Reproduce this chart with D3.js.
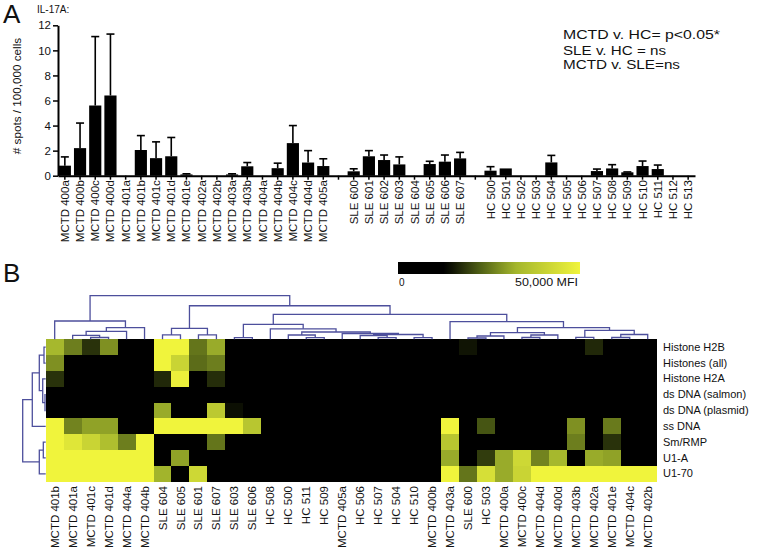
<!DOCTYPE html>
<html><head><meta charset="utf-8">
<script src="https://cdn.jsdelivr.net/npm/d3@7"></script>
<style>
body{margin:0;background:#fff;}
svg{display:block;font-family:"Liberation Sans",Arial,Helvetica,sans-serif;}
</style></head><body>
<svg id="chart" width="765" height="551"></svg>
<script>
// ---------- Panel A data ----------
const barCategories = ["MCTD 400a","MCTD 400b","MCTD 400c","MCTD 400d","MCTD 401a","MCTD 401b","MCTD 401c","MCTD 401d","MCTD 401e","MCTD 402a","MCTD 402b","MCTD 403a","MCTD 403b","MCTD 404a","MCTD 404b","MCTD 404c","MCTD 404d","MCTD 405a","",
  "SLE 600","SLE 601","SLE 602","SLE 603","SLE 604","SLE 605","SLE 606","SLE 607","",
  "HC 500","HC 501","HC 502","HC 503","HC 504","HC 505","HC 506","HC 507","HC 508","HC 509","HC 510","HC 511","HC 512","HC 513"];
const barValues = [0.8,2.2,5.6,6.4,0,2.05,1.4,1.55,0.1,0,0,0.1,0.75,0,0.6,2.6,1.05,0.77,null,
  0.35,1.55,1.25,0.9,0,0.93,1.12,1.38,null,
  0.4,0.58,0,0,1.06,0,0,0.37,0.58,0.27,0.77,0.53,0,0];
const barErrUpper = [1.5,4.2,11.1,11.3,0,3.2,2.7,3.05,0.15,0,0,0.15,1.05,0,1.0,4.0,2.0,1.35,null,
  0.55,2.0,1.65,1.5,0,1.15,1.65,1.86,null,
  0.72,0.58,0,0,1.62,0,0,0.53,0.88,0.3,1.17,0.85,0,0];
const yTicks = [0,2,4,6,8,10,12];
const yTitle = "# spots / 100,000 cells";
const cytokine = "IL-17A:";
const statLines = ["MCTD v. HC= p<0.05*","SLE v. HC = ns","MCTD v. SLE=ns"];

// ---------- Panel B data ----------
const heatCols = ["MCTD 401b","MCTD 401a","MCTD 401c","MCTD 401d","MCTD 404a","MCTD 404b","SLE 604","SLE 605","SLE 601","SLE 607","SLE 603","SLE 606","HC 508","HC 500","HC 511","HC 509","MCTD 405a","HC 506","HC 507","HC 504","HC 510","MCTD 400b","MCTD 403a","SLE 600","HC 503","MCTD 400a","MCTD 400c","MCTD 404d","MCTD 400d","MCTD 403b","MCTD 402a","MCTD 401e","MCTD 404c","MCTD 402b"];
const heatRows = ["Histone H2B","Histones (all)","Histone H2A","ds DNA (salmon)","ds DNA (plasmid)","ss DNA","Sm/RMP","U1-A","U1-70"];
// MFI values (rows x columns)
const mfiH2B     = [33000,26000,18000,28000,0,0,50000,50000,25000,31000,0,0,0,0,0,0,0,0,0,0,0,0,0,15000,0,0,0,0,0,0,17000,0,0,0];
const mfiHistAll = [28000,0,0,0,0,0,50000,41000,24000,26000,0,0,0,0,0,0,0,0,0,0,0,0,0,0,0,0,0,0,0,0,0,0,0,0];
const mfiH2A     = [18000,0,0,0,0,0,17000,49000,0,17500,0,0,0,0,0,0,0,0,0,0,0,0,0,0,0,0,0,0,0,0,0,0,0,0];
const mfiDsSalm  = [0,0,0,0,0,0,0,0,0,0,0,0,0,0,0,0,0,0,0,0,0,0,0,0,0,0,0,0,0,0,0,0,0,0];
const mfiDsPlas  = [0,0,0,0,0,0,31000,0,0,38000,14500,0,0,0,0,0,0,0,0,0,0,0,0,0,0,0,0,0,0,0,0,0,0,0];
const mfiSsDNA   = [50000,26500,30000,30000,0,0,50000,50000,50000,50000,50000,37000,0,0,0,0,0,0,0,0,0,0,50000,0,21500,0,0,0,0,28000,0,25500,0,0];
const mfiSm      = [50000,46000,41000,35000,26000,50000,0,0,0,25000,0,0,0,0,0,0,0,0,0,0,0,0,37000,0,0,0,0,0,0,26000,0,18000,0,0];
const mfiU1A     = [50000,50000,50000,50000,50000,50000,0,30000,0,0,0,0,0,0,0,0,0,0,0,0,0,0,31000,0,19000,31000,42000,26500,33000,0,31000,30000,0,0];
const mfiU170    = [50000,50000,50000,50000,50000,50000,32000,0,42000,0,0,0,0,0,0,0,0,0,0,0,0,0,50000,25000,44000,31000,41000,50000,50000,50000,50000,50000,50000,50000];
const heatValues = [mfiH2B,mfiHistAll,mfiH2A,mfiDsSalm,mfiDsPlas,mfiSsDNA,mfiSm,mfiU1A,mfiU170];
const mfiMax = 50000;
const colorbarLabels = ["0","50,000 MFI"];

// dendrograms: [mergeHeight, left, right], leaves are names
const colTree = [10,
  [4.2, "MCTD 401b", [2.66, [1.8, [0.92, "MCTD 401a", [0.41, "MCTD 401c", "MCTD 401d"]], "MCTD 404a"], "MCTD 404b"]],
  [7.7,
    [2.5, [1.0, "SLE 604", "SLE 605"], [1.0, "SLE 601", "SLE 607"]],
    [5.73,
      [3.44, [0.37, "SLE 603", "SLE 606"],
        [2.4, "HC 508",
          [1.67,
            [0.99, "HC 500", [0.37, "HC 511", "HC 509"]],
            [1.33, "MCTD 405a", [1.1, [0.87, "HC 506", [0.37, "HC 507", "HC 504"]], [0.37, "HC 510", "MCTD 400b"]]]]]],
      [4.04, "MCTD 403a",
        [2.66,
          [1.51, [0.76, [0.3, "SLE 600", "HC 503"], "MCTD 400a"], [0.99, [0.41, "MCTD 400c", "MCTD 404d"], "MCTD 400d"]],
          [2.06, [0.46, "MCTD 403b", "MCTD 402a"], [1.1, [0.41, "MCTD 401e", "MCTD 404c"], "MCTD 402b"]]]]]]];
const rowTree = [10,
  [5.83, [2.78, [0.74, "Histone H2B", "Histones (all)"], [1.3, "Histone H2A", [0.3, "ds DNA (salmon)", "ds DNA (plasmid)"]]], "ss DNA"],
  [2.78, [1.04, "Sm/RMP", "U1-A"], "U1-70"]];

// ---------- drawing ----------
const svg = d3.select("#chart");
svg.append("rect").attr("width",765).attr("height",551).attr("fill","#fff");
const ink = "#111";

// Panel A
const gA = svg.append("g");
gA.append("text").attr("x",3).attr("y",23).attr("font-size",26).attr("fill",ink).text("A");
gA.append("text").attr("x",37).attr("y",12.5).attr("font-size",10).attr("fill",ink).text(cytokine);

const x = d3.scaleBand().domain(d3.range(barCategories.length)).range([58,695]).paddingInner(0.2).paddingOuter(0.05);
const y = d3.scaleLinear().domain([0,12]).range([175.7,25.3]);

const xAxis = gA.append("g").attr("transform",`translate(0,${y(0)})`)
  .call(d3.axisBottom(x).tickSize(4).tickSizeOuter(0).tickFormat(i => barCategories[i]));
xAxis.select(".domain").attr("stroke","#000").attr("stroke-width",2);
xAxis.selectAll(".tick line").attr("stroke","#000").attr("stroke-width",1.5);
xAxis.selectAll("text").attr("transform","rotate(-90)").attr("text-anchor","end")
  .attr("x",-4.5).attr("y",0).attr("dy","0.35em").attr("font-size",11.5).attr("fill",ink)
  .attr("font-family","'Liberation Sans',Arial,sans-serif");

const yAxis = gA.append("g").attr("transform","translate(58,0)")
  .call(d3.axisLeft(y).tickValues(yTicks).tickSize(5).tickPadding(2).tickSizeOuter(0));
yAxis.select(".domain").attr("stroke","#000").attr("stroke-width",2);
yAxis.selectAll(".tick line").attr("stroke","#000").attr("stroke-width",1.5);
yAxis.selectAll("text").attr("font-size",11.5).attr("fill",ink).attr("font-family","'Liberation Sans',Arial,sans-serif");

gA.append("text").attr("transform","translate(21,96) rotate(-90)").attr("text-anchor","middle")
  .attr("font-size",11.7).attr("fill",ink).text(yTitle);

const barIdx = d3.range(barCategories.length).filter(i => barValues[i] !== null);
gA.append("g").selectAll("rect").data(barIdx.filter(i => barValues[i] > 0)).join("rect")
  .attr("x", i => x(i)).attr("width", x.bandwidth())
  .attr("y", i => y(barValues[i])).attr("height", i => y(0) - y(barValues[i])).attr("fill","#000");
const eb = gA.append("g").attr("stroke","#000").attr("stroke-width",1.6).attr("fill","none");
barIdx.filter(i => barErrUpper[i] > barValues[i]).forEach(i => {
  const cx = x(i) + x.bandwidth()/2;
  eb.append("line").attr("x1",cx).attr("x2",cx).attr("y1",y(barValues[i])).attr("y2",y(barErrUpper[i]));
  eb.append("line").attr("x1",cx-4).attr("x2",cx+4).attr("y1",y(barErrUpper[i])).attr("y2",y(barErrUpper[i]));
});

const statLens = [157,103,117];
const statY = [39.3,54.8,69.3];
statLines.forEach((s,k) => {
  gA.append("text").attr("x",563).attr("y",statY[k]).attr("font-size",12).attr("fill",ink)
    .attr("textLength",statLens[k]).attr("lengthAdjust","spacingAndGlyphs").text(s);
});

// Panel B
const gB = svg.append("g");
gB.append("text").attr("x",3).attr("y",282).attr("font-size",26).attr("fill",ink).text("B");

const color = d3.scaleLinear().domain([0,0.26,0.44,0.64,1].map(t => t*mfiMax))
  .range(["#000000","#000000","#4a5a14","#a2b42c","#f0f43c"]).clamp(true);

// colorbar
const defs = svg.append("defs");
const grad = defs.append("linearGradient").attr("id","cbar");
d3.range(0,1.0001,0.05).forEach(t => grad.append("stop").attr("offset",t).attr("stop-color",color(t*mfiMax)));
gB.append("rect").attr("x",398).attr("y",262).attr("width",182).attr("height",12).attr("fill","url(#cbar)");
gB.append("text").attr("x",399).attr("y",285.5).attr("font-size",10).attr("fill",ink).text(colorbarLabels[0]);
gB.append("text").attr("x",515).attr("y",285.5).attr("font-size",10).attr("fill",ink)
  .attr("textLength",63).attr("lengthAdjust","spacingAndGlyphs").text(colorbarLabels[1]);

const hx = d3.scaleBand().domain(heatCols).range([45.7,656.7]);
const hy = d3.scaleBand().domain(heatRows).range([339.3,481.7]);

const cells = [];
heatRows.forEach((r,ri) => heatCols.forEach((c,ci) => cells.push({r,c,v:heatValues[ri][ci]})));
gB.append("g").selectAll("rect").data(cells).join("rect")
  .attr("x", d => hx(d.c)).attr("y", d => hy(d.r))
  .attr("width", hx.bandwidth()+0.4).attr("height", hy.bandwidth()+0.4)
  .attr("fill", d => color(d.v)).attr("shape-rendering","crispEdges");

gB.append("g").selectAll("text").data(heatRows).join("text")
  .attr("x",663).attr("y", d => hy(d) + hy.bandwidth()/2).attr("dy","0.33em")
  .attr("font-size",11).attr("fill",ink).text(d => d);

gB.append("g").selectAll("text").data(heatCols).join("text")
  .attr("transform", d => `translate(${hx(d)+hx.bandwidth()/2},486) rotate(-90)`)
  .attr("text-anchor","end").attr("dy","0.35em")
  .attr("font-size",11.5).attr("fill",ink).text(d => d);

function drawDendro(tree, leafPos, hScale, orient) {
  const root = d3.hierarchy(tree, d => Array.isArray(d) ? d.slice(1) : null);
  root.eachAfter(n => {
    if (n.children) { n.p = d3.mean(n.children, c => c.p); n.hv = n.data[0]; }
    else { n.p = leafPos(n.data); n.hv = 0; }
  });
  const paths = [];
  root.each(n => {
    if (!n.children) return;
    const [a,b] = n.children;
    if (orient === "top")
      paths.push(`M${a.p},${hScale(a.hv)}V${hScale(n.hv)}H${b.p}V${hScale(b.hv)}`);
    else
      paths.push(`M${hScale(a.hv)},${a.p}H${hScale(n.hv)}V${b.p}H${hScale(b.hv)}`);
  });
  gB.append("g").selectAll("path").data(paths).join("path").attr("d", d => d)
    .attr("fill","none").attr("stroke","#4d4f9c").attr("stroke-width",1.3);
}
const colH = d3.scaleLinear().domain([0,10]).range([339.3,295.7]);
const rowH = d3.scaleLinear().domain([0,10]).range([45.7,22.7]);
drawDendro(colTree, name => hx(name)+hx.bandwidth()/2, colH, "top");
drawDendro(rowTree, name => hy(name)+hy.bandwidth()/2, rowH, "left");
</script>
</body></html>
